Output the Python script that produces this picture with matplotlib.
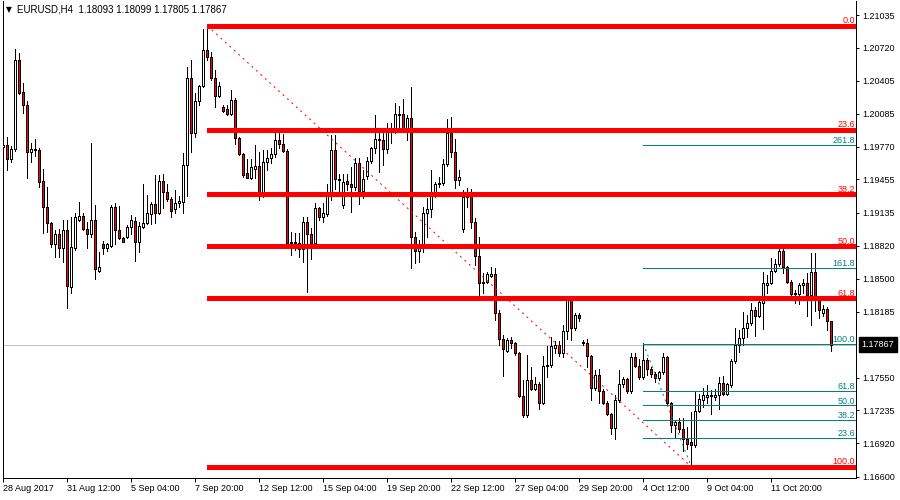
import matplotlib
matplotlib.use("Agg")
import matplotlib.pyplot as plt

# EURUSD H4 candles, oldest first
opens = [
    1.1977, 1.1979, 1.1965, 1.1975, 1.2060, 1.2030, 1.2017, 1.1972, 1.1975, 1.1974,
    1.1944, 1.1919, 1.1904, 1.1883, 1.1893, 1.1880, 1.1897, 1.1842, 1.1880, 1.1907,
    1.1910, 1.1898, 1.1893, 1.1907, 1.1858, 1.1883, 1.1880, 1.1882, 1.1919, 1.1897,
    1.1889, 1.1890, 1.1900, 1.1906, 1.1885, 1.1900, 1.1904, 1.1912, 1.1922, 1.1913,
    1.1944, 1.1933, 1.1927, 1.1917, 1.1923, 1.1924, 1.1959, 1.2043, 1.1990, 1.2021,
    1.2035, 1.2070, 1.2063, 1.2043, 1.2026, 1.2015, 1.2013, 1.2008, 1.2022, 1.1985,
    1.1970, 1.1952, 1.1947, 1.1956, 1.1958, 1.1931, 1.1962, 1.1966, 1.1970, 1.1983,
    1.1980, 1.1973, 1.1884, 1.1885, 1.1884, 1.1879, 1.1905, 1.1893, 1.1884, 1.1918,
    1.1909, 1.1912, 1.1930, 1.1974, 1.1946, 1.1921, 1.1944, 1.1941, 1.1938, 1.1961,
    1.1934, 1.1949, 1.1963, 1.1976, 1.1984, 1.1983, 1.1975, 1.1993, 1.1993, 1.2008,
    1.2008, 1.1995, 1.2005, 1.1890, 1.1877, 1.1883, 1.1913, 1.1917, 1.1933, 1.1941,
    1.1942, 1.1960, 1.1990, 1.1972, 1.1945, 1.1898, 1.1929, 1.1930, 1.1905, 1.1872,
    1.1846, 1.1847, 1.1853, 1.1855, 1.1817, 1.1792, 1.1781, 1.1791, 1.1788, 1.1779,
    1.1737, 1.1719, 1.1753, 1.1744, 1.1749, 1.1731, 1.1766, 1.1767, 1.1784, 1.1786,
    1.1779, 1.1800, 1.1830, 1.1803, 1.1815, 1.1789, 1.1788, 1.1776, 1.1745, 1.1758,
    1.1742, 1.1731, 1.1720, 1.1707, 1.1734, 1.1749, 1.1754, 1.1742, 1.1775, 1.1766,
    1.1756, 1.1772, 1.1763, 1.1759, 1.1755, 1.1760, 1.1775, 1.1731, 1.1710, 1.1712,
    1.1706, 1.1696, 1.1693, 1.1690, 1.1723, 1.1734, 1.1736, 1.1738, 1.1736, 1.1738,
    1.1750, 1.1739, 1.1748, 1.1771, 1.1786, 1.1793, 1.1803, 1.1808, 1.1820, 1.1814,
    1.1827, 1.1844, 1.1846, 1.1858, 1.1864, 1.1877, 1.1861, 1.1847, 1.1835, 1.1835,
    1.1844, 1.1846, 1.1834, 1.1857, 1.1830, 1.1817, 1.1821, 1.18093,
]
highs = [
    1.1985, 1.1986, 1.1978, 1.2071, 1.2067, 1.2038, 1.2021, 1.1981, 1.1984, 1.1976,
    1.1956, 1.1938, 1.1905, 1.1897, 1.1898, 1.1907, 1.1907, 1.1909, 1.1913, 1.1924,
    1.1913, 1.1905, 1.1981, 1.1921, 1.1876, 1.1886, 1.1884, 1.1921, 1.1923, 1.1920,
    1.1890, 1.1902, 1.1911, 1.1909, 1.1905, 1.1941, 1.1931, 1.1924, 1.1950, 1.1950,
    1.1951, 1.1941, 1.1929, 1.1935, 1.1930, 1.1971, 1.2054, 1.2060, 1.2029, 1.2036,
    1.2090, 1.2093, 1.2068, 1.2051, 1.2039, 1.2017, 1.2017, 1.2031, 1.2024, 1.1986,
    1.1971, 1.1965, 1.1965, 1.1979, 1.1972, 1.1974, 1.1974, 1.1976, 1.1991, 1.1991,
    1.1989, 1.1975, 1.1895, 1.1894, 1.1894, 1.1909, 1.1909, 1.1899, 1.1923, 1.1919,
    1.1923, 1.1941, 1.1988, 1.1988, 1.1951, 1.1951, 1.1951, 1.1957, 1.1966, 1.1966,
    1.1955, 1.1967, 1.1977, 1.2007, 1.1991, 1.1993, 1.2000, 1.2000, 1.2019, 1.2016,
    1.2023, 1.2007, 1.2034, 1.1895, 1.1887, 1.1919, 1.1928, 1.1955, 1.1943, 1.1948,
    1.1965, 1.2004, 1.2006, 1.1984, 1.1955, 1.1935, 1.1937, 1.1936, 1.1908, 1.1890,
    1.1856, 1.1857, 1.1861, 1.1860, 1.1820, 1.1796, 1.1793, 1.1794, 1.1789, 1.1780,
    1.1753, 1.1777, 1.1765, 1.1756, 1.1751, 1.1776, 1.1785, 1.1794, 1.1790, 1.1790,
    1.1806, 1.1833, 1.1833, 1.1817, 1.1817, 1.1791, 1.1792, 1.1777, 1.1762, 1.1763,
    1.1744, 1.1733, 1.1721, 1.1738, 1.1762, 1.1756, 1.1755, 1.1779, 1.1779, 1.1773,
    1.1788, 1.1774, 1.1765, 1.1760, 1.1761, 1.1779, 1.1776, 1.1732, 1.1713, 1.1716,
    1.1716, 1.1708, 1.1722, 1.1741, 1.1739, 1.1745, 1.1748, 1.1743, 1.1744, 1.1756,
    1.1757, 1.1750, 1.1773, 1.1803, 1.1801, 1.1818, 1.1815, 1.1827, 1.1823, 1.1830,
    1.1857, 1.1854, 1.1870, 1.1869, 1.1880, 1.1880, 1.1862, 1.1849, 1.1839, 1.1846,
    1.1850, 1.1856, 1.1875, 1.1875, 1.1832, 1.1825, 1.1823, 1.18099,
]
lows = [
    1.1972, 1.1955, 1.1962, 1.1973, 1.2028, 1.2009, 1.1947, 1.1962, 1.1968, 1.1938,
    1.1894, 1.1895, 1.1881, 1.1871, 1.1871, 1.1866, 1.1822, 1.1836, 1.1878, 1.1906,
    1.1897, 1.1880, 1.1890, 1.1850, 1.1857, 1.1874, 1.1877, 1.1881, 1.1883, 1.1888,
    1.1885, 1.1889, 1.1893, 1.1867, 1.1876, 1.1899, 1.1903, 1.1903, 1.1904, 1.1912,
    1.1918, 1.1925, 1.1909, 1.1913, 1.1919, 1.1913, 1.1930, 1.1972, 1.1986, 1.2017,
    1.2034, 1.2060, 1.2041, 1.2015, 1.2025, 1.2010, 1.2007, 1.2007, 1.1980, 1.1969,
    1.1948, 1.1947, 1.1946, 1.1947, 1.1926, 1.1929, 1.1955, 1.1961, 1.1967, 1.1976,
    1.1972, 1.1883, 1.1873, 1.1878, 1.1871, 1.1866, 1.1837, 1.1869, 1.1883, 1.1907,
    1.1905, 1.1910, 1.1926, 1.1936, 1.1931, 1.1918, 1.1935, 1.1914, 1.1935, 1.1922,
    1.1928, 1.1946, 1.1961, 1.1971, 1.1953, 1.1959, 1.1971, 1.1981, 1.1990, 1.1995,
    1.1991, 1.1983, 1.1860, 1.1865, 1.1866, 1.1876, 1.1890, 1.1909, 1.1929, 1.1938,
    1.1940, 1.1958, 1.1967, 1.1937, 1.1940, 1.1895, 1.1919, 1.1899, 1.1863, 1.1834,
    1.1836, 1.1846, 1.1852, 1.1810, 1.1786, 1.1757, 1.1780, 1.1784, 1.1777, 1.1736,
    1.1717, 1.1717, 1.1743, 1.1743, 1.1725, 1.1730, 1.1756, 1.1765, 1.1779, 1.1776,
    1.1775, 1.1792, 1.1791, 1.1801, 1.1809, 1.1786, 1.1765, 1.1734, 1.1743, 1.1731,
    1.1730, 1.1719, 1.1701, 1.1696, 1.1732, 1.1746, 1.1740, 1.1740, 1.1765, 1.1754,
    1.1754, 1.1758, 1.1756, 1.1751, 1.1753, 1.1759, 1.1730, 1.1703, 1.1698, 1.1703,
    1.1685, 1.1686, 1.1670, 1.1688, 1.1722, 1.1727, 1.1731, 1.1720, 1.1734, 1.1725,
    1.1738, 1.1738, 1.1746, 1.1769, 1.1780, 1.1786, 1.1794, 1.1806, 1.1795, 1.1813,
    1.1802, 1.1836, 1.1845, 1.1857, 1.1862, 1.1856, 1.1846, 1.1833, 1.1827, 1.1826,
    1.1836, 1.1814, 1.1806, 1.1819, 1.1812, 1.1814, 1.1801, 1.17805,
]
closes = [
    1.1979, 1.1965, 1.1975, 1.2060, 1.2029, 1.2017, 1.1972, 1.1975, 1.1974, 1.1943,
    1.1919, 1.1904, 1.1883, 1.1893, 1.1880, 1.1897, 1.1843, 1.1881, 1.1909, 1.1910,
    1.1898, 1.1893, 1.1907, 1.1859, 1.1861, 1.1880, 1.1883, 1.1919, 1.1897, 1.1889,
    1.1885, 1.1900, 1.1907, 1.1885, 1.1901, 1.1904, 1.1913, 1.1922, 1.1913, 1.1944,
    1.1933, 1.1927, 1.1915, 1.1923, 1.1925, 1.1959, 1.2043, 1.1990, 1.2021, 1.2035,
    1.2070, 1.2063, 1.2043, 1.2026, 1.2035, 1.2011, 1.2008, 1.2022, 1.1985, 1.1970,
    1.1950, 1.1947, 1.1957, 1.1958, 1.1932, 1.1962, 1.1966, 1.1970, 1.1983, 1.1980,
    1.1973, 1.1884, 1.1885, 1.1884, 1.1879, 1.1905, 1.1893, 1.1884, 1.1918, 1.1909,
    1.1913, 1.1930, 1.1974, 1.1946, 1.1945, 1.1943, 1.1941, 1.1938, 1.1961, 1.1934,
    1.1946, 1.1963, 1.1976, 1.1984, 1.1983, 1.1975, 1.1994, 1.1995, 1.2008, 1.2007,
    1.1995, 1.2005, 1.1890, 1.1877, 1.1883, 1.1913, 1.1917, 1.1933, 1.1941, 1.1942,
    1.1960, 1.1990, 1.1972, 1.1945, 1.1948, 1.1929, 1.1930, 1.1905, 1.1872, 1.1846,
    1.1847, 1.1855, 1.1855, 1.1817, 1.1792, 1.1783, 1.1791, 1.1788, 1.1779, 1.1737,
    1.1719, 1.1753, 1.1744, 1.1749, 1.1731, 1.1766, 1.1767, 1.1785, 1.1786, 1.1779,
    1.1800, 1.1830, 1.1803, 1.1815, 1.1812, 1.1788, 1.1776, 1.1745, 1.1758, 1.1742,
    1.1731, 1.1720, 1.1707, 1.1734, 1.1749, 1.1754, 1.1742, 1.1775, 1.1766, 1.1756,
    1.1772, 1.1763, 1.1759, 1.1755, 1.1760, 1.1775, 1.1731, 1.1710, 1.1712, 1.1706,
    1.1696, 1.1691, 1.1690, 1.1723, 1.1735, 1.1738, 1.1738, 1.1737, 1.1738, 1.1750,
    1.1739, 1.1749, 1.1771, 1.1786, 1.1793, 1.1803, 1.1808, 1.1820, 1.1814, 1.1828,
    1.1846, 1.1846, 1.1858, 1.1864, 1.1877, 1.1861, 1.1847, 1.1835, 1.1836, 1.1844,
    1.1846, 1.1834, 1.1857, 1.1830, 1.1820, 1.1821, 1.1809, 1.17867,
]
print(len(opens), len(highs), len(lows), len(closes))

title_text = "EURUSD,H4  1.18093 1.18099 1.17805 1.17867"
last_price = 1.17867

date_bars = [0, 16, 32, 48, 64, 80, 96, 112, 128, 144, 160, 176, 192]
date_labels = ["28 Aug 2017", "31 Aug 12:00", "5 Sep 04:00", "7 Sep 20:00",
               "12 Sep 12:00", "15 Sep 04:00", "19 Sep 20:00", "22 Sep 12:00",
               "27 Sep 04:00", "29 Sep 20:00", "4 Oct 12:00", "9 Oct 04:00",
               "11 Oct 20:00"]
price_ticks = [1.21035, 1.20720, 1.20405, 1.20085, 1.19770, 1.19455, 1.19135,
               1.18820, 1.18500, 1.18185, 1.17550, 1.17235, 1.16920, 1.16600]

# big retracement: Sep 8 high -> Oct 6 low
fib1_bars = [51, 172]
fib1_prices = [1.20932, 1.16696]
fib1_levels = [0.0, 23.6, 38.2, 50.0, 61.8, 100.0]
# small expansion: Oct 4 high -> Oct 6 low
fib2_bars = [160, 172]
fib2_prices = [1.17878, 1.16696]
fib2_levels = [23.6, 38.2, 50.0, 61.8, 100.0, 161.8, 261.8]

PX = 0.72  # one pixel in points at 100 dpi
FONT = ["Liberation Sans", "DejaVu Sans"]
RED = "#ff0000"
TEAL = "#008080"

fig = plt.figure(figsize=(9, 5), dpi=100)
ax = fig.add_axes([2.5 / 900, 22 / 500, 853.5 / 900, 477 / 500])
ax.set_xlim(-0.2, 213.2)
ax.set_ylim(1.16586, 1.21170)

x = list(range(len(opens)))

# current price line
ax.axhline(last_price, color="#c0c0c0", lw=PX, zorder=1)

# candles
ax.vlines(x, lows, highs, color="black", lw=PX, zorder=3, antialiased=False)
bottoms = [min(o, c) for o, c in zip(opens, closes)]
heights = [abs(c - o) for o, c in zip(opens, closes)]
colors = [RED if c < o else "white" for o, c in zip(opens, closes)]
ax.bar(x, heights, bottom=bottoms, width=0.5, color=colors, edgecolor="black",
       linewidth=PX, zorder=4, antialiased=False)

xmax = ax.get_xlim()[1]

# fibonacci retracement (red)
hi1, lo1 = fib1_prices
for lev in fib1_levels:
    p = hi1 - (hi1 - lo1) * lev / 100
    ax.hlines(p, fib1_bars[0] - 0.15, xmax, color=RED, lw=5 * PX, zorder=5,
              antialiased=False)
    ax.annotate(f"{lev:.1f}", xy=(1, p), xycoords=("axes fraction", "data"),
                xytext=(-1 * PX, 2.6 * PX), textcoords="offset points",
                ha="right", va="baseline", color=RED, fontsize=6.5, family=FONT)
ax.plot(fib1_bars, fib1_prices, color=RED, lw=PX, ls=(0, (2, 4)), zorder=6)

# fibonacci expansion (teal)
hi2, lo2 = fib2_prices
for lev in fib2_levels:
    p = lo2 + (hi2 - lo2) * lev / 100
    ax.hlines(p, fib2_bars[0], xmax, color=TEAL, lw=PX, zorder=5, antialiased=False)
    ax.annotate(f"{lev:.1f}", xy=(1, p), xycoords=("axes fraction", "data"),
                xytext=(-1 * PX, 1.5 * PX), textcoords="offset points",
                ha="right", va="baseline", color=TEAL, fontsize=6.5, family=FONT)
ax.plot(fib2_bars, fib2_prices, color=TEAL, lw=PX, ls=(0, (2, 4)), zorder=6)

# axes look like the MT4 window
for side in ["left", "bottom", "right"]:
    ax.spines[side].set_color("black")
    ax.spines[side].set_linewidth(PX)
ax.spines["top"].set_visible(False)

ax.yaxis.tick_right()
ax.set_yticks(price_ticks)
ax.set_yticklabels([f"{p:.5f}" for p in price_ticks], family=FONT)
ax.tick_params(axis="y", direction="out", length=3 * PX, width=PX, pad=2.2,
               labelsize=6.5, colors="black")

ax.set_xticks(date_bars)
ax.set_xticklabels(date_labels, family=FONT, ha="left")
ax.tick_params(axis="x", direction="out", length=4 * PX, width=PX, pad=1.5,
               labelsize=6.5, colors="black")

# last price tag on the scale
ax.annotate(f"{last_price:.5f}", xy=(1, last_price), xycoords=("axes fraction", "data"),
            xytext=(4, 0), textcoords="offset points", ha="left", va="center",
            color="white", fontsize=6.5, family=FONT,
            bbox=dict(boxstyle="square,pad=0.3", fc="black", ec="black"))

# header text
fig.text(6 / 900, 1 - 10 / 500, "\u25bc", fontsize=5.5, family="DejaVu Sans",
         va="center", ha="left")
fig.text(17 / 900, 1 - 10 / 500, title_text, fontsize=7, family=FONT,
         va="center", ha="left")

fig.savefig("out.png", dpi=100, facecolor="white")
